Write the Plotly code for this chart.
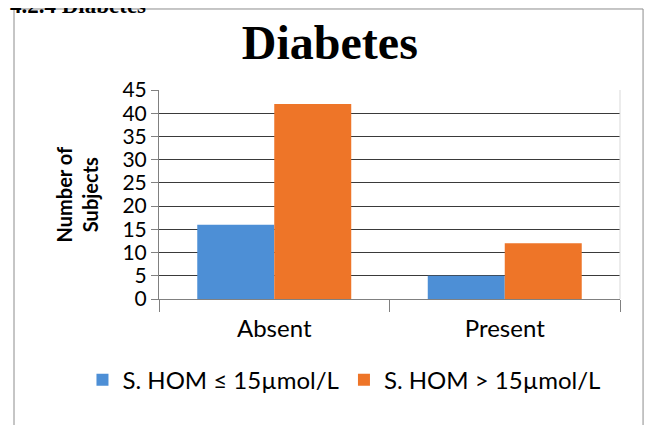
import plotly.graph_objects as go

categories = ["Absent", "Present"]
series_names = ["S. HOM ≤ 15µmol/L", "S. HOM > 15µmol/L"]
low_hom = [16, 5]
high_hom = [42, 12]
y_ticks = [0, 5, 10, 15, 20, 25, 30, 35, 40, 45]

BODY_FONT = "Lato, 'Open Sans', sans-serif"
SERIF = "'Liberation Serif', 'Times New Roman', serif"

fig = go.Figure()
fig.add_trace(go.Bar(x=categories, y=low_hom, name=series_names[0],
                     marker=dict(color="#4d8fd6", line=dict(width=0))))
fig.add_trace(go.Bar(x=categories, y=high_hom, name=series_names[1],
                     marker=dict(color="#ee7528", line=dict(width=0))))

fig.update_layout(
    width=645, height=417,
    margin=dict(l=151, r=33, t=82, b=126),
    paper_bgcolor="white", plot_bgcolor="white",
    barmode="group", bargap=0.332, bargroupgap=0,
    title=dict(text="<b>Diabetes</b>", x=0.499, xanchor="center", y=0.918, yanchor="middle",
               font=dict(family=SERIF, size=48, color="black")),
    font=dict(family=BODY_FONT, color="black"),
    showlegend=True,
    legend=dict(orientation="h", x=-0.166, xanchor="left", y=-0.388, yanchor="middle",
                font=dict(family=BODY_FONT, size=24, color="black"),
                itemwidth=30, traceorder="normal", bgcolor="rgba(0,0,0,0)"),
)

fig.update_xaxes(
    showline=True, linecolor="#808080", linewidth=1,
    ticks="outside", tickson="boundaries", ticklen=12, tickcolor="#808080", tickwidth=1,
    tickfont=dict(family=BODY_FONT, size=24, color="black"),
    ticklabelstandoff=8,
    showgrid=False,
)
fig.update_yaxes(
    range=[0, 45], tickvals=y_ticks,
    showline=True, linecolor="#808080", linewidth=1,
    ticks="outside", ticklen=7, tickcolor="#808080", tickwidth=1,
    tickfont=dict(family=BODY_FONT, size=21, color="black"),
    showgrid=True, gridcolor="#3a3a3a", gridwidth=1,
    zeroline=False,
)

# y-axis title
fig.add_annotation(text="<b>Number of<br>Subjects</b>", xref="paper", yref="paper",
                   x=-0.178, xanchor="center", y=0.5, yanchor="middle", textangle=-90,
                   showarrow=False, font=dict(family=BODY_FONT, size=20, color="black"))

# clipped section heading above the chart
fig.add_annotation(text="<b>4.2.4 Diabetes</b>", xref="paper", yref="paper",
                   x=-0.3275, xanchor="left", y=1.402, yanchor="middle", showarrow=False,
                   font=dict(family=SERIF, size=23, color="black"))

# outer chart border and right plot edge
fig.add_shape(type="rect", xref="paper", yref="paper", x0=-0.3145, x1=1.05, y0=-0.75, y1=1.3876,
              line=dict(color="#8c8c8c", width=1), fillcolor="rgba(0,0,0,0)", layer="below")
fig.add_shape(type="line", xref="paper", yref="paper", x0=1, x1=1, y0=0, y1=1,
              line=dict(color="#d9d9d9", width=1))

fig.write_html("out.html")
